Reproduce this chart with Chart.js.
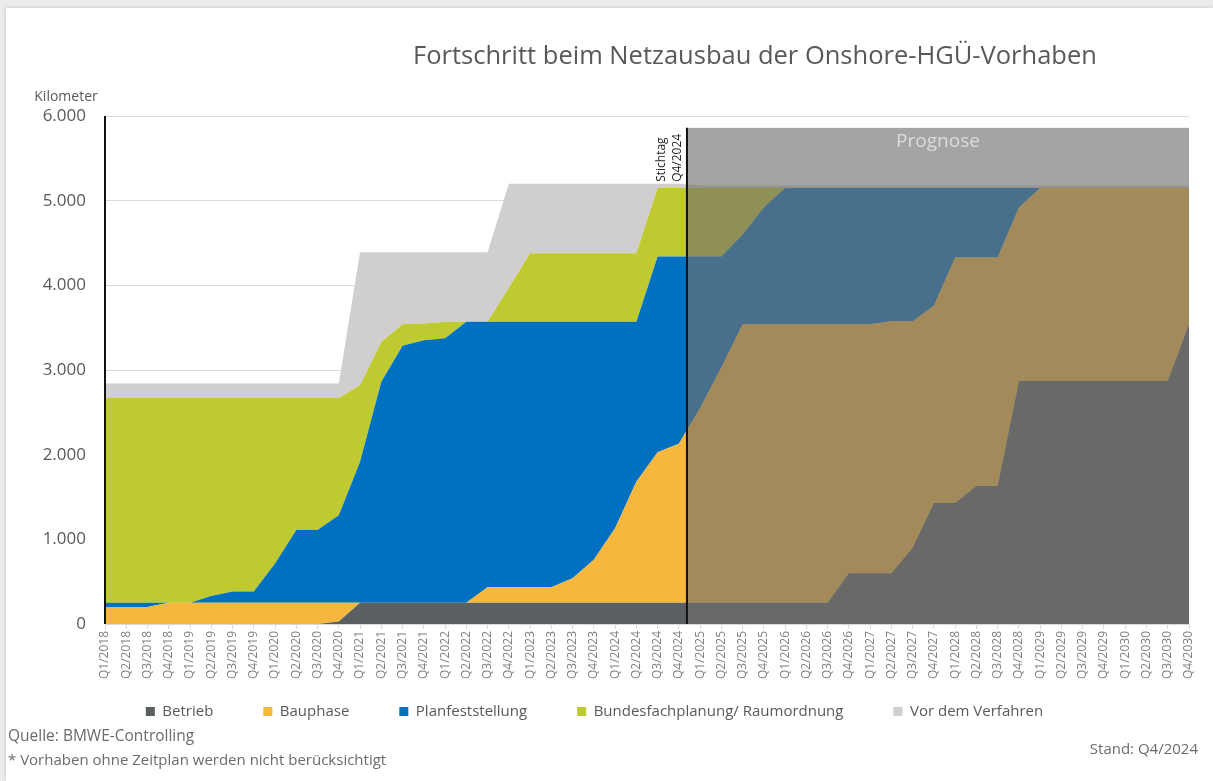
<!DOCTYPE html>
<html>
<head>
<meta charset="utf-8">
<script src="https://cdn.jsdelivr.net/npm/chart.js@4.4.1/dist/chart.umd.min.js"></script>
<style>
  html, body { margin: 0; padding: 0; width: 1213px; height: 781px; overflow: hidden; background: #ececec; }
  #frame { position: absolute; left: 6px; top: 8px; width: 1207px; height: 773px; background: #fff; box-shadow: 0 0 4px rgba(0,0,0,0.18); }
  #chart { position: absolute; left: 0; top: 0; }
</style>
</head>
<body>
<div id="frame"></div>
<canvas id="chart" width="1213" height="781"></canvas>
<script>
// quarters Q1/2018 .. Q4/2030
var quarters = [];
for (var yr = 2018; yr <= 2030; yr++) {
  for (var q = 1; q <= 4; q++) quarters.push('Q' + q + '/' + yr);
}

// km per phase (stacked, bottom to top)
var betrieb = [0,0,0,0,0,0,0,0,0,0,0,30,
  250,250,250,250,250,250,250,250,250,250,250,250,250,250,250,250,250,250,250,250,250,250,250,
  600,600,600,900,1430,1430,1630,1630,
  2870,2870,2870,2870,2870,2870,2870,2870,3540];
var bauphase = [200,200,200,250,250,250,250,250,250,250,250,220,
  0,0,0,0,0,0,185,185,185,185,
  290,510,880,1430,1780,1880,2300,2780,
  3290,3290,3290,3290,3290,2940,2940,2975,2675,2330,2900,2700,2700,2050,
  2280,2280,2280,2280,2280,2280,2280,1610];
var planfeststellung = [50,50,50,0,0,80,135,135,465,860,860,1035,
  1665,2610,3035,3100,3125,3320,3135,3135,3135,3135,
  3030,2810,2440,1890,2310,2210,1790,1310,1060,1380,
  1610,1610,1610,1610,1610,1575,1575,1390,820,820,820,230,
  0,0,0,0,0,0,0,0];
var bundesfach = [2420,2420,2420,2420,2420,2340,2285,2285,1955,1560,1560,1385,
  905,470,255,200,195,0,0,400,
  810,810,810,810,810,810,810,810,810,810,550,230,
  0,0,0,0,0,0,0,0,0,0,0,0,0,0,0,0,0,0,0,0];
var vorVerfahren = [170,170,170,170,170,170,170,170,170,170,170,170,
  1570,1060,850,840,820,820,820,1230,
  820,820,820,820,820,820,50,50,
  30,30,30,30,30,30,30,30,30,30,30,30,30,30,30,30,30,30,30,30,30,30,30,30];

var seriesNames = ['Betrieb', 'Bauphase', 'Planfeststellung', 'Bundesfachplanung/ Raumordnung', 'Vor dem Verfahren'];
var seriesColors = ['#5a5f62', '#f6b83c', '#0070c0', '#bfca30', '#d0cece'];
var yTicks = [0, 1000, 2000, 3000, 4000, 5000, 6000];

var stichIdx = 27;      // Q4/2024
var stichShift = 0.38;  // line sits a bit right of the Q4/2024 point
var prognoseTop = 5860;

var FONT = "'Open Sans', 'Noto Sans', sans-serif";

function ds(i, data) {
  return {
    label: seriesNames[i],
    data: data,
    backgroundColor: seriesColors[i],
    borderColor: seriesColors[i],
    borderWidth: 0,
    pointRadius: 0,
    tension: 0,
    fill: i === 0 ? 'origin' : '-1'
  };
}

var extras = {
  id: 'extras',
  afterLayout: function(chart) {
    // x labels are taller than the box kept for them; let them draw into the legend gap
    var s = chart.scales.x;
    s.bottom = s.top + 70;
    s.height = 70;
  },
  afterDatasetsDraw: function(chart) {
    var ctx = chart.ctx, a = chart.chartArea, x = chart.scales.x, y = chart.scales.y;
    var x0 = x.getPixelForValue(stichIdx);
    var sx = x0 + stichShift * (x.getPixelForValue(stichIdx + 1) - x0);
    var top = y.getPixelForValue(prognoseTop);
    ctx.save();
    ctx.fillStyle = 'rgba(114,111,108,0.63)';
    ctx.fillRect(sx, top, a.right - sx, a.bottom - top);

    ctx.strokeStyle = '#111';
    ctx.lineWidth = 2;
    ctx.beginPath();
    ctx.moveTo(sx, top); ctx.lineTo(sx, a.bottom);
    ctx.moveTo(a.left, a.top); ctx.lineTo(a.left, a.bottom);
    ctx.stroke();

    ctx.fillStyle = '#dcdcdc';
    ctx.font = '19px ' + FONT;
    ctx.textAlign = 'center';
    ctx.textBaseline = 'middle';
    ctx.fillText('Prognose', (sx + a.right) / 2, top + 14);

    // Stichtag label, rotated
    ctx.fillStyle = '#262626';
    ctx.font = '12px ' + FONT;
    ctx.translate(sx, top + 54);
    ctx.rotate(-Math.PI / 2);
    ctx.textAlign = 'left';
    ctx.fillText('Stichtag', 0, -25);
    ctx.fillText('Q4/2024', 0, -9);
    ctx.restore();
  },
  afterDraw: function(chart) {
    var ctx = chart.ctx;
    ctx.save();
    ctx.textBaseline = 'middle';
    ctx.fillStyle = '#595959';
    ctx.font = '25.5px ' + FONT;
    ctx.textAlign = 'center';
    ctx.fillText('Fortschritt beim Netzausbau der Onshore-HGÜ-Vorhaben', 755, 57);

    ctx.font = '14px ' + FONT;
    ctx.fillText('Kilometer', 66, 97);

    ctx.fillStyle = '#6b6b6b';
    ctx.font = '15.5px ' + FONT;
    ctx.textAlign = 'left';
    ctx.fillText('Quelle: BMWE-Controlling', 8, 737);
    ctx.font = '15px ' + FONT;
    ctx.fillText('* Vorhaben ohne Zeitplan werden nicht berücksichtigt', 8, 761);
    ctx.textAlign = 'right';
    ctx.fillText('Stand: Q4/2024', 1198, 750);
    ctx.restore();
  }
};

new Chart(document.getElementById('chart'), {
  type: 'line',
  data: {
    labels: quarters,
    datasets: [
      ds(0, betrieb),
      ds(1, bauphase),
      ds(2, planfeststellung),
      ds(3, bundesfach),
      ds(4, vorVerfahren)
    ]
  },
  options: {
    responsive: false,
    animation: false,
    layout: { padding: { top: 116, left: 0, right: 24, bottom: 52 } },
    plugins: {
      title: { display: false },
      tooltip: { enabled: false },
      legend: {
        position: 'bottom',
        labels: {
          boxWidth: 9,
          boxHeight: 9,
          padding: 50,
          color: '#595959',
          font: { size: 15, family: FONT }
        }
      }
    },
    scales: {
      x: {
        offset: false,
        grid: { drawOnChartArea: false, drawTicks: true, tickLength: 5, color: '#d9d9d9' },
        border: { color: '#d9d9d9', width: 1 },
        ticks: {
          autoSkip: false, maxRotation: 90, minRotation: 90, padding: 2,
          color: '#7f7f7f', font: { size: 12, family: FONT }
        },
        afterFit: function(s) { s.height = 30; }
      },
      y: {
        stacked: true,
        min: 0,
        max: 6000,
        afterBuildTicks: function(s) { s.ticks = yTicks.map(function(v) { return { value: v }; }); },
        grid: { color: '#d9d9d9', drawTicks: false },
        border: { display: false },
        ticks: {
          padding: 19,
          color: '#595959',
          font: { size: 17, family: FONT },
          callback: function(v) { return v === 0 ? '0' : (v / 1000) + '.000'; }
        },
        afterFit: function(s) { s.width = 105; }
      }
    }
  },
  plugins: [extras]
});
</script>
</body>
</html>
